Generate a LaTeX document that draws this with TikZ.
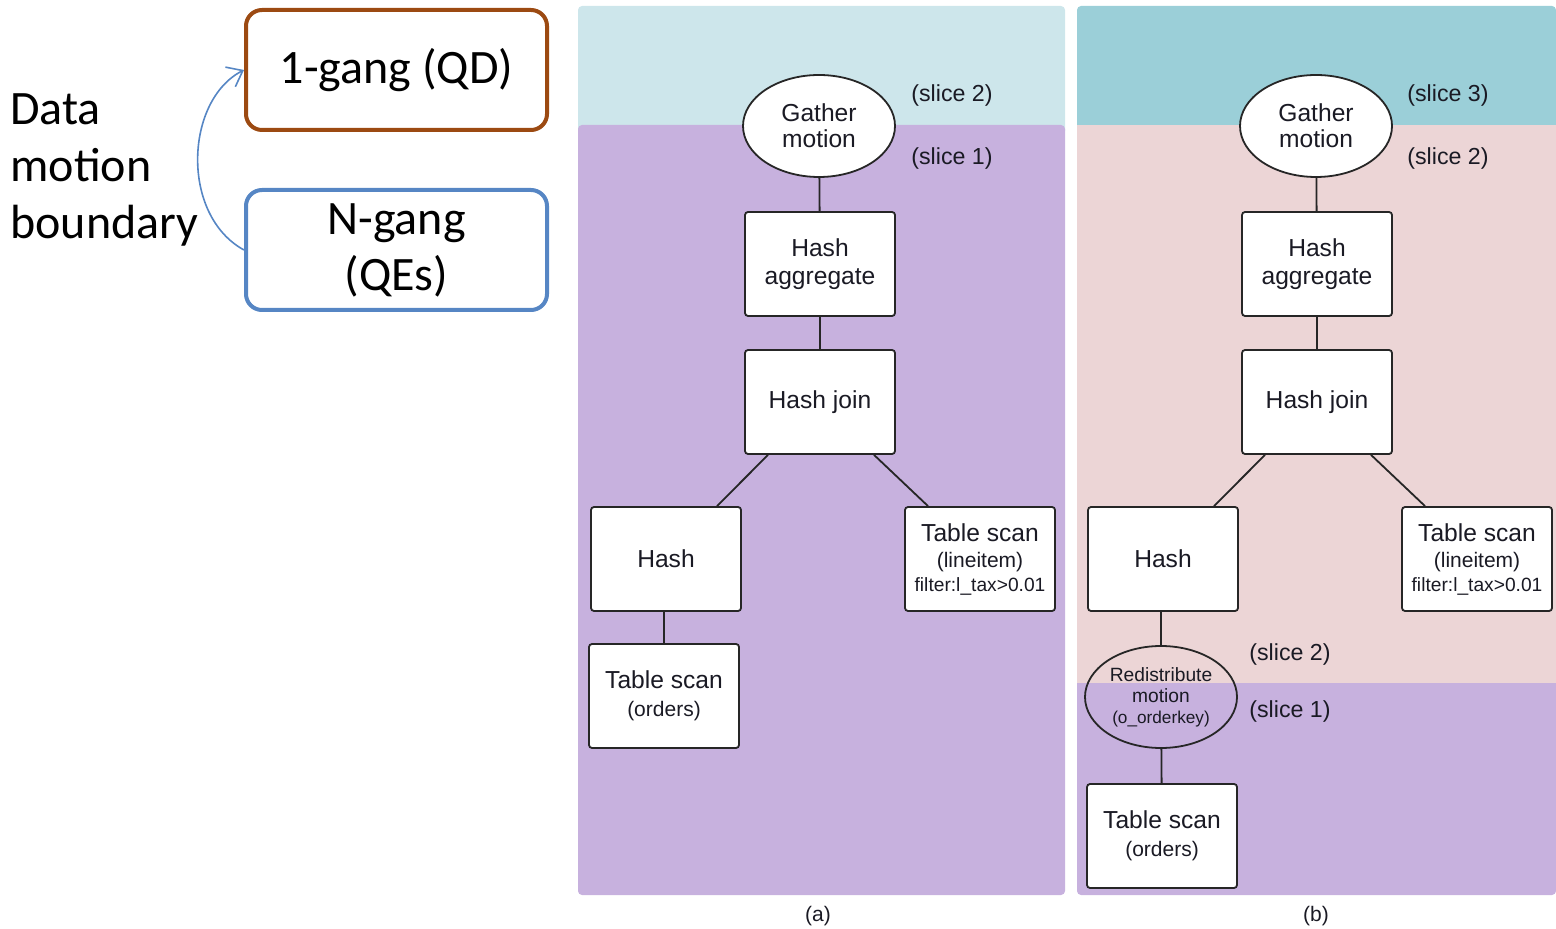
\documentclass[tikz,border=0pt]{standalone}
\usepackage{fontspec}
\setmainfont{Liberation Sans}
\newfontfamily\calfont{Carlito}
\usetikzlibrary{arrows.meta,calc,shapes.geometric}

\definecolor{qdbrown}{HTML}{9C4A12}
\definecolor{qeblue}{HTML}{5686C4}
\definecolor{sliceblue}{HTML}{CDE6EB}
\definecolor{sliceteal}{HTML}{9BCFD8}
\definecolor{slicepurple}{HTML}{C7B1DE}
\definecolor{slicepink}{HTML}{ECD5D6}
\definecolor{inktext}{HTML}{1A1A24}

\tikzset{
  gangbox/.style={draw, line width=2pt, rounded corners=8pt, minimum width=150.5pt,
    minimum height=60pt, align=center, font=\calfont\fontsize{24}{28}\selectfont, inner sep=0pt},
  opbox/.style={draw=black!85, fill=white, line width=0.9pt, rounded corners=1.5pt,
    minimum width=75pt, minimum height=52pt, align=center, inner sep=0pt,
    text=inktext, font=\fontsize{12.3}{14}\selectfont},
  motion/.style={ellipse, draw=black!85, fill=white, line width=0.9pt, minimum width=76pt,
    minimum height=51pt, align=center, inner sep=0pt, text=inktext,
    font=\fontsize{12.3}{13}\selectfont},
  slicelabel/.style={text=inktext, font=\fontsize{11.6}{13}\selectfont, inner sep=0pt},
  edge/.style={draw=black!85, line width=0.9pt},
  caption/.style={text=inktext, font=\fontsize{10.5}{12}\selectfont, inner sep=0pt},
  subline/.style={font=\fontsize{10.5}{12}\selectfont},
}
\newcommand{\lineitemtext}{Table scan\\[-1pt]{\fontsize{10.5}{12}\selectfont(lineitem)}\\[-2pt]{\fontsize{9.6}{12}\selectfont filter:l\_tax>0.01}}
\newcommand{\orderstext}{Table scan\\{\fontsize{10.5}{14}\selectfont(orders)}}

\begin{document}
\begin{tikzpicture}[x=0.5pt,y=-0.5pt]
\useasboundingbox (0,0) rectangle (1556,929);

% ---------- legend on the left ----------
\node[gangbox, draw=qdbrown] (qd) at (396.5,70) {1-gang (QD)};
\node[gangbox, draw=qeblue, font=\calfont\fontsize{24}{28}\selectfont] (qe) at (396.5,250) {N-gang\\(QEs)};
\node[anchor=north west, align=left, inner sep=0pt, font=\calfont\fontsize{24}{28.5}\selectfont]
  (dmb) at (10,93) {Data\\motion\\boundary};
\draw[qeblue, line width=0.8pt, -{Straight Barb[length=7pt,width=11pt,line width=0.8pt]}]
  (qe.west) .. controls (180,215) and (185,100) .. (qd.west);

% ---------- panel (a): background slices ----------
\fill[sliceblue, rounded corners=2pt] (578,6) rectangle (1065,135);
\fill[slicepurple, rounded corners=2pt] (578,125) rectangle (1065,895);

% ---------- panel (b): background slices ----------
\fill[sliceteal, rounded corners=2pt] (1077,6) rectangle (1556,135);
\fill[slicepink] (1077,125) rectangle (1556,683);
\fill[slicepurple, rounded corners=2pt] (1077,683) rectangle (1556,895);
\fill[slicepurple] (1077,683) rectangle (1556,700);

% ---------- panel (a): plan tree ----------
\node[motion] (ga) at (819,126) {Gather\\motion};
\node[slicelabel] (a2) at (952,96) {(slice 2)};
\node[slicelabel] (a1) at (952,159) {(slice 1)};
\node[opbox] (haa) at (820,264) {Hash\\aggregate};
\node[opbox] (hja) at (820,402) {Hash join};
\node[opbox] (ha) at (666,559) {Hash};
\node[opbox] (tla) at (980,559) {\lineitemtext};
\node[opbox] (toa) at (664,696) {\orderstext};
\node[caption] (capa) at (818,916) {(a)};

\draw[edge] (ga) -- (haa);
\draw[edge] (haa) -- (hja);
\draw[edge] ($(hja.south)+(-52,0)$) -- ($(ha.north)+(51,0)$);
\draw[edge] ($(hja.south)+(54,0)$) -- ($(tla.north)+(-52,0)$);
\draw[edge] ($(ha.south)+(-2,0)$) -- (toa);

% ---------- panel (b): plan tree ----------
\node[motion] (gb) at (1316,126) {Gather\\motion};
\node[slicelabel] (b3) at (1448,96) {(slice 3)};
\node[slicelabel] (b2) at (1448,159) {(slice 2)};
\node[opbox] (hab) at (1317,264) {Hash\\aggregate};
\node[opbox] (hjb) at (1317,402) {Hash join};
\node[opbox] (hb) at (1163,559) {Hash};
\node[opbox] (tlb) at (1477,559) {\lineitemtext};
\node[motion, fill=none, font=\fontsize{9.6}{10.5}\selectfont] (rm) at (1161,697)
  {Redistribute\\motion\\{\fontsize{8.6}{11}\selectfont(o\_orderkey)}};
\node[slicelabel] (b2r) at (1290,654) {(slice 2)};
\node[slicelabel] (b1r) at (1290,711) {(slice 1)};
\node[opbox] (tob) at (1162,836) {\orderstext};
\node[caption] (capb) at (1316,916) {(b)};

\draw[edge] (gb) -- (hab);
\draw[edge] (hab) -- (hjb);
\draw[edge] ($(hjb.south)+(-52,0)$) -- ($(hb.north)+(51,0)$);
\draw[edge] ($(hjb.south)+(54,0)$) -- ($(tlb.north)+(-52,0)$);
\draw[edge] ($(hb.south)+(-2,0)$) -- (rm);
\draw[edge] (rm) -- (tob);
\end{tikzpicture}
\end{document}
